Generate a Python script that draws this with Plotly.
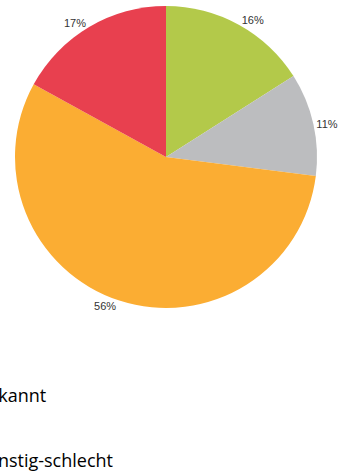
import plotly.graph_objects as go

labels = ["günstig", "unbekannt", "ungünstig-unzureichend", "ungünstig-schlecht"]
values = [16, 11, 56, 17]
colors = ["#B3C94A", "#BCBDBF", "#FBAD33", "#E8404F"]

W, H = 344, 473
cx, cy, r = 166, 157, 151

fig = go.Figure(go.Pie(
    labels=labels,
    values=values,
    sort=False,
    direction="clockwise",
    rotation=0,
    marker=dict(colors=colors, line=dict(width=0)),
    textposition="outside",
    texttemplate="%{value}%",
    textfont=dict(family="Liberation Sans, Arial, sans-serif", size=11, color="#333333"),
    showlegend=False,
    hoverinfo="label+percent",
    domain=dict(x=[(cx - r) / W, (cx + r) / W], y=[(H - cy - r) / H, (H - cy + r) / H]),
))

# Legend text (cut off at the left edge in the reference)
legend_items = [(labels[1], 48, 395), (labels[3], 115, 460)]
for txt, xr, yc in legend_items:
    fig.add_annotation(
        text=txt, xref="paper", yref="paper",
        x=xr / W, y=1 - yc / H, xanchor="right", yanchor="middle",
        showarrow=False,
        font=dict(family="Open Sans, sans-serif", size=18, color="#000000"),
    )

fig.update_layout(
    width=W, height=H,
    margin=dict(l=0, r=0, t=0, b=0),
    paper_bgcolor="white",
    plot_bgcolor="white",
)

fig.write_html("out.html")
